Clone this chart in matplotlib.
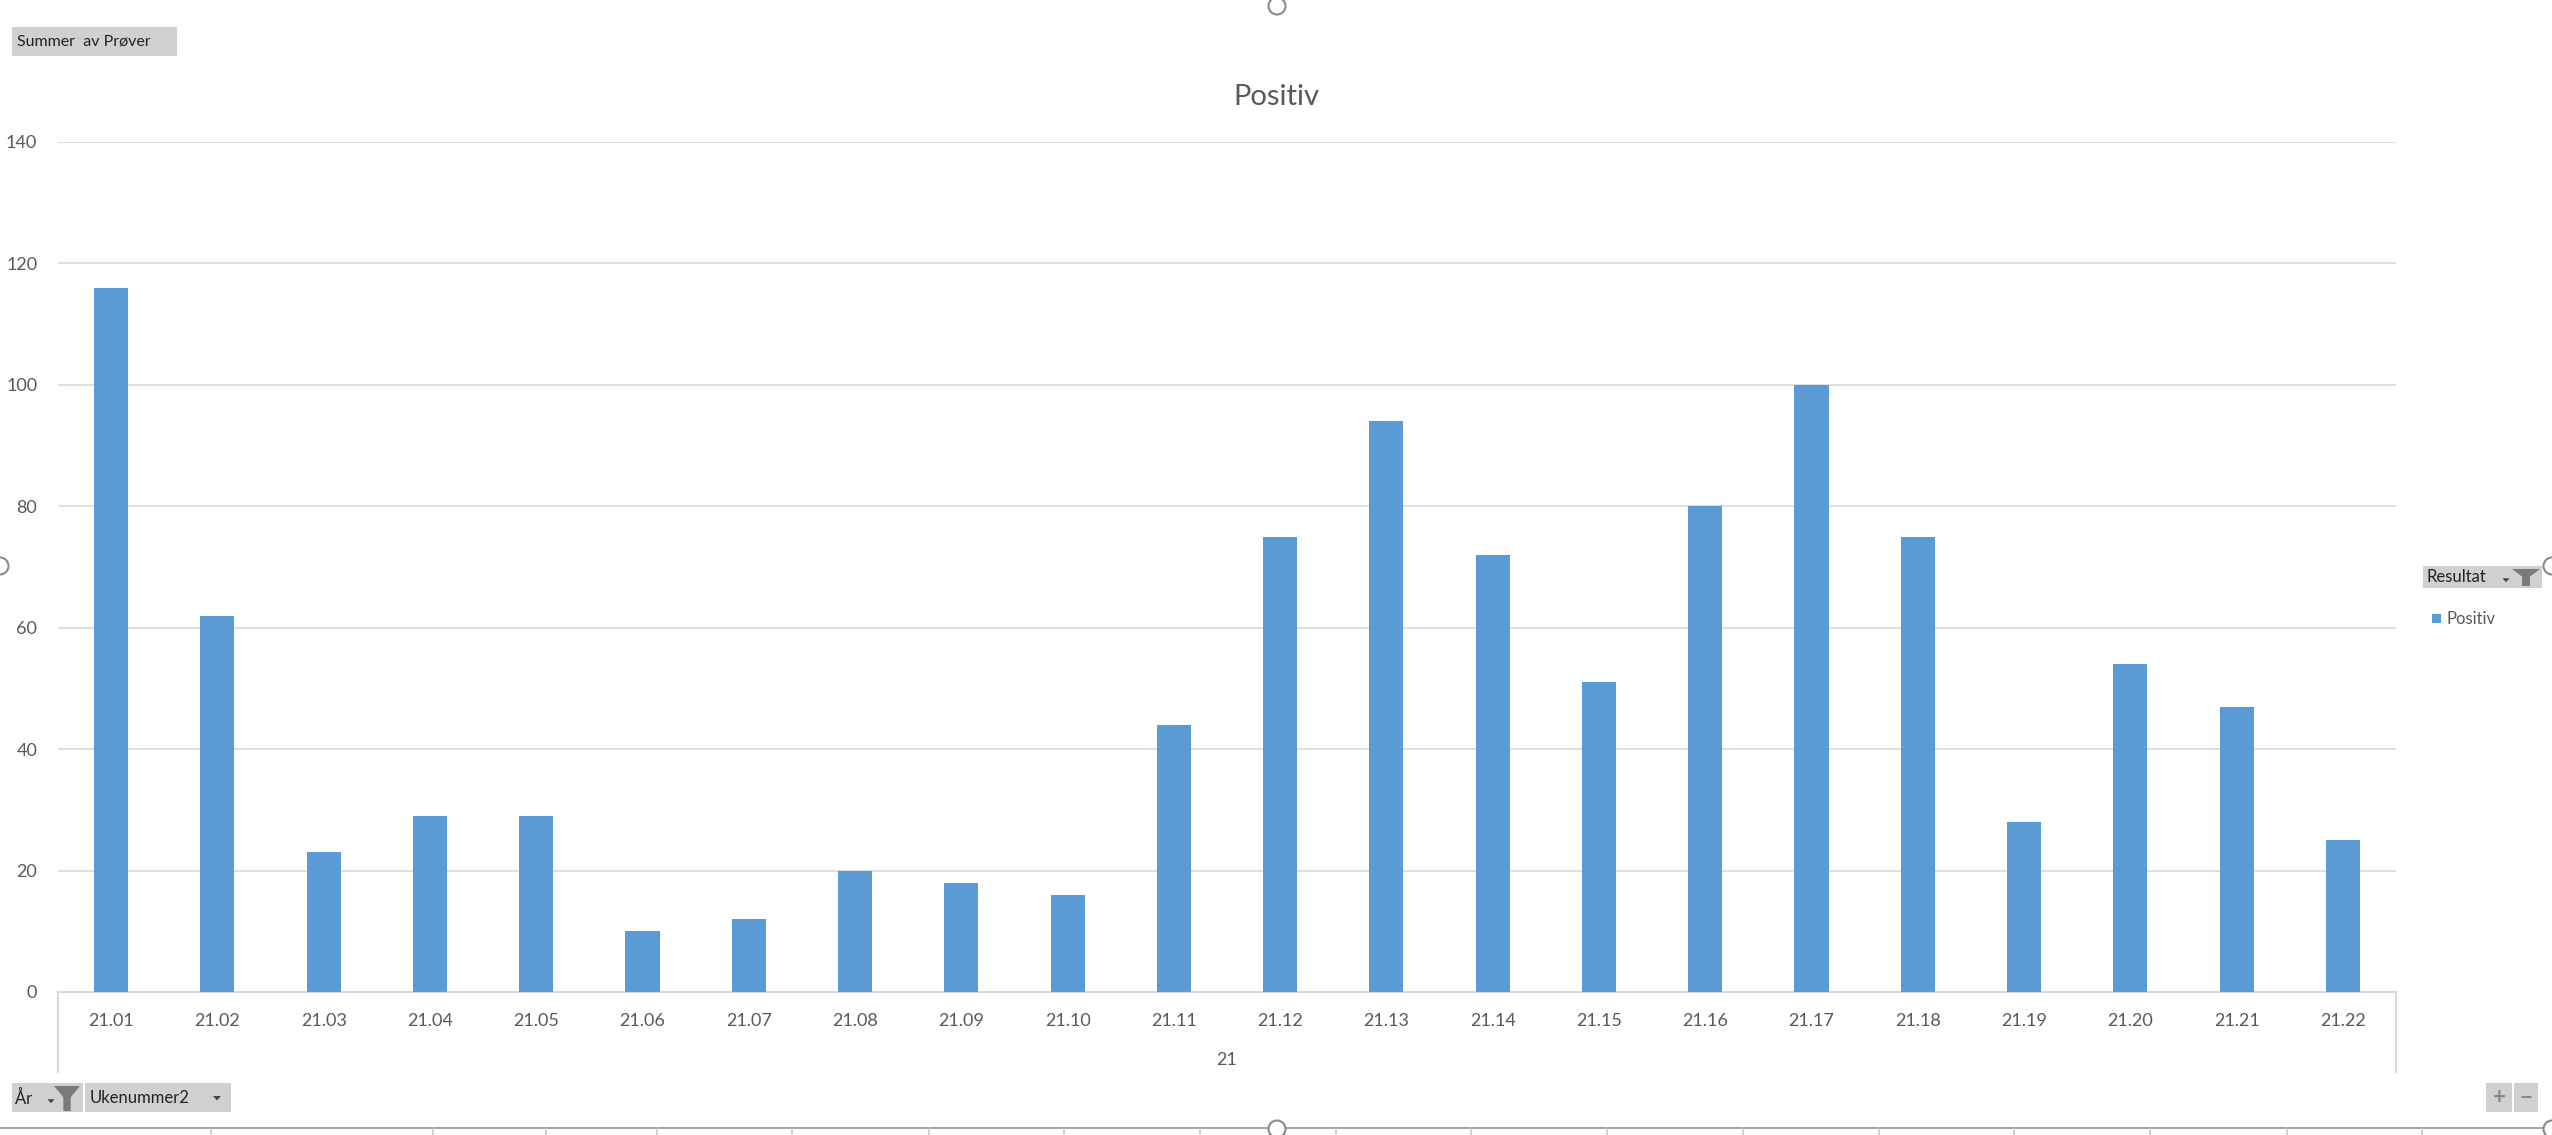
import matplotlib
matplotlib.use("Agg")
import matplotlib.pyplot as plt
from matplotlib.patches import Rectangle, Polygon, Ellipse
from matplotlib.lines import Line2D

plt.rcParams['font.family'] = ['Lato', 'DejaVu Sans']

# Ukenummer (år.uke) og antall positive prøver
weeks = ['21.01', '21.02', '21.03', '21.04', '21.05', '21.06', '21.07', '21.08',
         '21.09', '21.10', '21.11', '21.12', '21.13', '21.14', '21.15', '21.16',
         '21.17', '21.18', '21.19', '21.20', '21.21', '21.22']
positive = [116, 62, 23, 29, 29, 10, 12, 20, 18, 16, 44, 75, 94, 72, 51, 80,
            100, 75, 28, 54, 47, 25]
year_label = '21'
series_name = 'Positiv'

W, H = 2552, 1135
BAR = '#5b9bd5'
TXT = '#595959'
GRID = '#d9d9d9'

fig = plt.figure(figsize=(W / 100, H / 100), dpi=100)
fig.patch.set_facecolor('white')


def fx(x):
    return x / W


def fy(y):
    return 1 - y / H


def button(x0, y0, x1, y1, color='#d0d0d0'):
    fig.patches.append(Rectangle((fx(x0), fy(y1)), fx(x1 - x0), (y1 - y0) / H,
                                 transform=fig.transFigure, facecolor=color,
                                 edgecolor='none', zorder=1))


def funnel(x0, y0, x1, y1, color='#7a7a7a'):
    xm = (x0 + x1) / 2
    sw = (x1 - x0) * 0.14
    ym = y0 + (y1 - y0) * 0.45
    pts = [(x0, y0), (x1, y0), (xm + sw, ym), (xm + sw, y1),
           (xm - sw, y1), (xm - sw, ym)]
    fig.patches.append(Polygon([(fx(a), fy(b)) for a, b in pts], closed=True,
                               transform=fig.transFigure, facecolor=color,
                               edgecolor='none', zorder=2))


def arrow(xc, yc, s=4, color='#444444'):
    pts = [(xc - s, yc - s * 0.5), (xc + s, yc - s * 0.5), (xc, yc + s * 0.6)]
    fig.patches.append(Polygon([(fx(a), fy(b)) for a, b in pts], closed=True,
                               transform=fig.transFigure, facecolor=color,
                               edgecolor='none', zorder=2))


def hline(x0, x1, y, color=GRID, lw=1.2):
    fig.add_artist(Line2D([fx(x0), fx(x1)], [fy(y), fy(y)], color=color, lw=lw,
                          transform=fig.transFigure))


def vline(x, y0, y1, color=GRID, lw=1.2):
    fig.add_artist(Line2D([fx(x), fx(x)], [fy(y0), fy(y1)], color=color, lw=lw,
                          transform=fig.transFigure))


# plot area
ax_l, ax_r, ax_t, ax_b = 58, 2396, 142, 992
ax = fig.add_axes([fx(ax_l), fy(ax_b), fx(ax_r - ax_l), (ax_b - ax_t) / H])
x = range(len(weeks))
ax.bar(x, positive, width=0.32, color=BAR, zorder=3)
ax.set_xlim(-0.5, len(weeks) - 0.5)
ax.set_ylim(0, 140)
ax.set_yticks(range(0, 141, 20))
ax.set_xticks(list(x))
ax.set_xticklabels(weeks)
ax.yaxis.grid(True, color=GRID, lw=1.2)
ax.set_axisbelow(True)
for s in ('left', 'right', 'top'):
    ax.spines[s].set_visible(False)
ax.spines['bottom'].set_color(GRID)
ax.spines['bottom'].set_linewidth(1.5)
ax.tick_params(axis='y', length=0, pad=15, labelsize=13, labelcolor=TXT)
ax.tick_params(axis='x', length=0, pad=15, labelsize=13, labelcolor=TXT)

# year group label and separators below the category axis
vline(ax_l, ax_b, 1072, lw=1.5)
vline(ax_r, ax_b, 1072, lw=1.5)
fig.text(fx((ax_l + ax_r) / 2), fy(1060), year_label, ha='center', va='center',
         fontsize=13, color=TXT)

# title
fig.text(0.5, fy(97), series_name, ha='center', va='center', fontsize=21,
         color=TXT)

# value field button
button(12, 27, 177, 56)
fig.text(fx(17), fy(42), 'Summer  av Prøver', ha='left', va='center',
         fontsize=11.5, color='#222222')

# legend with field button
button(2423, 566, 2542, 588)
fig.text(fx(2427), fy(577), 'Resultat', ha='left', va='center', fontsize=12,
         color='#222222')
arrow(2506, 580, s=3.5)
funnel(2512, 569, 2540, 586)
fig.patches.append(Rectangle((fx(2432), fy(623)), fx(9), 9 / H,
                             transform=fig.transFigure, facecolor=BAR,
                             edgecolor='none'))
fig.text(fx(2447), fy(619), series_name, ha='left', va='center', fontsize=12,
         color=TXT)

# axis field buttons
button(12, 1083, 83, 1112)
fig.text(fx(15), fy(1098), 'År', ha='left', va='center', fontsize=12,
         color='#222222')
arrow(51, 1101, s=3.5)
funnel(54, 1086, 80, 1111)
button(85, 1083, 231, 1112)
fig.text(fx(90), fy(1098), 'Ukenummer2', ha='left', va='center', fontsize=12,
         color='#222222')
arrow(217, 1098, s=4)

# zoom buttons
button(2486, 1083, 2512, 1112)
button(2514, 1083, 2538, 1112)
fig.text(fx(2499), fy(1097), '+', ha='center', va='center', fontsize=16,
         color='#888888', fontweight='bold')
fig.text(fx(2526), fy(1097), '−', ha='center', va='center', fontsize=16,
         color='#888888', fontweight='bold')

# sheet gridline strip at the bottom edge
hline(0, W, 1128, color='#a6a6a6', lw=1.5)
for cx in [211, 433, 546, 657, 792, 929, 1064, 1200, 1336, 1471, 1607, 1743,
           1879, 2014, 2150, 2287, 2422]:
    vline(cx, 1128, 1135, color='#c8c8c8', lw=1.2)

# selection handles on the chart border
r = 8.5
for hx, hy in [(1277, 1129), (1277, 6), (W, 1129), (0, 566), (W, 566)]:
    fig.patches.append(Ellipse((fx(hx), fy(hy)), 2 * r / W, 2 * r / H,
                               transform=fig.transFigure, facecolor='white',
                               edgecolor='#8a8a8a', lw=1.5, zorder=5))

fig.savefig('out.png', dpi=100)
